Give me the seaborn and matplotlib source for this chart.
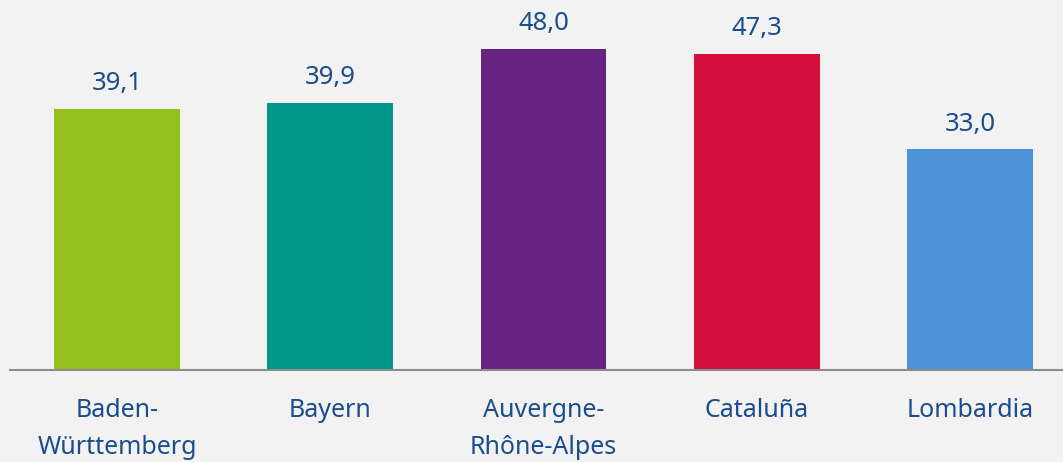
import matplotlib
matplotlib.use("Agg")
import matplotlib.pyplot as plt
import seaborn as sns
import pandas as pd

categories = ["Baden-\nWürttemberg", "Bayern", "Auvergne-\nRhône-Alpes", "Cataluña", "Lombardia"]
values = [39.1, 39.9, 48.0, 47.3, 33.0]
value_labels = ["39,1", "39,9", "48,0", "47,3", "33,0"]
colors = ["#95c11f", "#00968a", "#662480", "#d40f3c", "#4d93dc"]

sns.set_style("white")
plt.rcParams['font.family'] = ['Noto Sans', 'DejaVu Sans']
txt = "#1a4c8e"
bg = "#f2f2f2"

df = pd.DataFrame({"cat": categories, "val": values})
fig = plt.figure(figsize=(10.63, 4.62), dpi=100, facecolor=bg)
ax = fig.add_axes([10/1063, 92/462, 1053/1063, 370/462])
ax.set_facecolor(bg)
sns.barplot(data=df, x="cat", y="val", hue="cat", palette=colors, width=0.59,
            legend=False, ax=ax, saturation=1, linewidth=0)
ax.set_xlim(-0.502, 4.436)
ax.set_ylim(0, 55.33)
for i, (v, l) in enumerate(zip(values, value_labels)):
    ax.text(i, v + 1.9, l, ha="center", va="bottom", fontsize=18.5, color=txt)
for s in ["top", "right", "left"]:
    ax.spines[s].set_visible(False)
ax.spines["bottom"].set_color("#8c8c8c")
ax.spines["bottom"].set_linewidth(1.5)
ax.set_yticks([])
ax.set_xlabel("")
ax.set_ylabel("")
ax.tick_params(axis="x", length=0, pad=20, labelsize=18, labelcolor=txt)
for t in ax.get_xticklabels():
    t.set_linespacing(1.65)
fig.savefig("out.png", dpi=100, facecolor=bg)
